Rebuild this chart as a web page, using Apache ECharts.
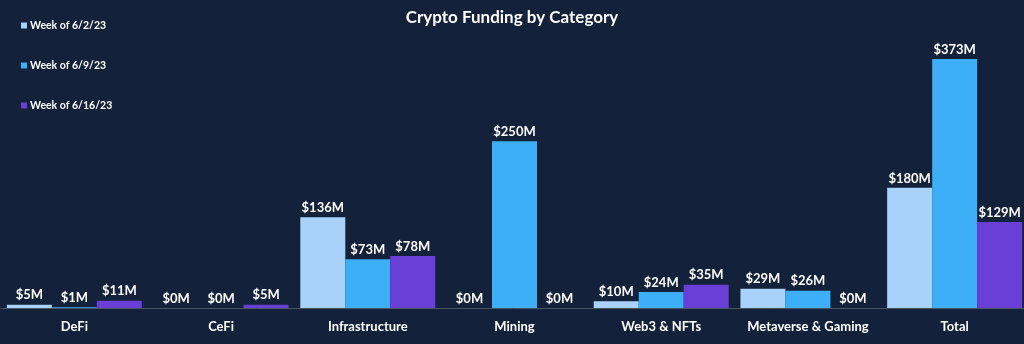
<!DOCTYPE html>
<html>
<head>
<meta charset="utf-8">
<script src="https://cdn.jsdelivr.net/npm/echarts@6/dist/echarts.min.js"></script>
<style>
  html, body { margin: 0; padding: 0; background: #13213b; }
  #chart { width: 1024px; height: 344px; }
</style>
</head>
<body>
<div id="chart"></div>
<script>
// Categories and weekly funding values (millions of USD)
const categories = ['DeFi', 'CeFi', 'Infrastructure', 'Mining', 'Web3 & NFTs', 'Metaverse & Gaming', 'Total'];
const weekNames = ['Week of 6/2/23', 'Week of 6/9/23', 'Week of 6/16/23'];
const week0602 = [5, 0, 136, 0, 10, 29, 180];
const week0609 = [1, 0, 73, 250, 24, 26, 373];
const week0616 = [11, 5, 78, 0, 35, 0, 129];

const colors = ['#a8d2fa', '#3dafF6', '#6a3fd8'];
const font = 'Lato, "Open Sans", sans-serif';

const chart = echarts.init(document.getElementById('chart'));

function makeSeries(name, data, color) {
  return {
    name: name,
    type: 'bar',
    data: data,
    barGap: '0%',
    barCategoryGap: '8%',
    itemStyle: { color: color },
    label: {
      show: true,
      position: 'top',
      distance: 3,
      color: '#ffffff',
      fontFamily: font,
      fontWeight: 'bold',
      fontSize: 13,
      formatter: p => '$' + p.value + 'M'
    }
  };
}

chart.setOption({
  backgroundColor: '#13213b',
  animation: false,
  title: {
    text: 'Crypto Funding by Category',
    left: 'center',
    top: 4,
    textStyle: { color: '#ffffff', fontFamily: font, fontWeight: 'bold', fontSize: 17 }
  },
  legend: {
    orient: 'vertical',
    left: 16,
    top: 15,
    itemGap: 29,
    itemWidth: 6,
    itemHeight: 6,
    icon: 'rect',
    textStyle: { color: '#ffffff', fontFamily: font, fontWeight: 'bold', fontSize: 10.5, padding: [0, 0, 0, -2] },
    data: weekNames
  },
  grid: { left: 1, width: 1027, top: 41, bottom: 36, outerBoundsMode: 'none', containLabel: false },
  xAxis: {
    type: 'category',
    data: categories,
    axisLine: { lineStyle: { color: '#4a5566', width: 1 } },
    axisTick: { show: false },
    axisLabel: { interval: 0, color: '#ffffff', fontFamily: font, fontWeight: 'bold', fontSize: 13, margin: 12 }
  },
  yAxis: {
    type: 'value',
    min: 0,
    max: 400,
    show: false,
    splitLine: { show: false }
  },
  series: [
    makeSeries(weekNames[0], week0602, colors[0]),
    makeSeries(weekNames[1], week0609, colors[1]),
    makeSeries(weekNames[2], week0616, colors[2])
  ]
});
</script>
</body>
</html>
